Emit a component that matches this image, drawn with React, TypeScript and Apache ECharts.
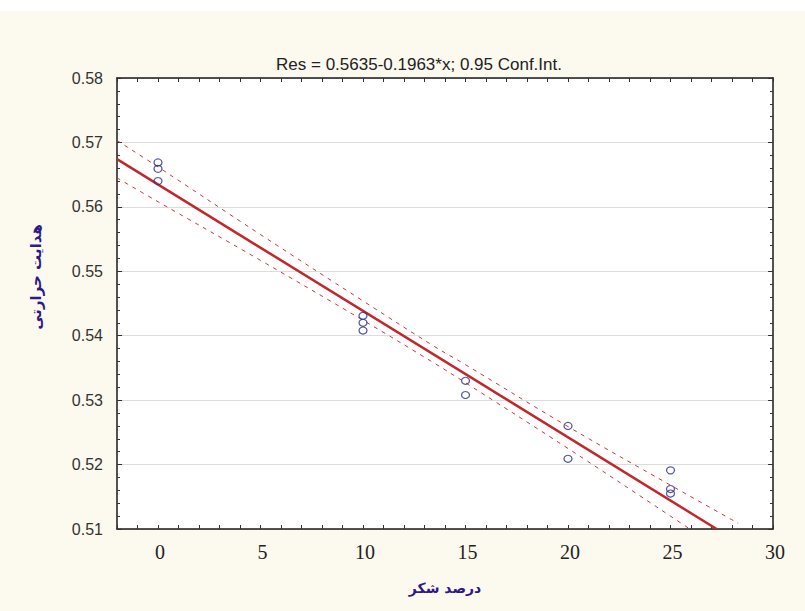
import React, { useEffect, useRef } from 'react';
import * as echarts from 'echarts';

const TITLE = 'Res = 0.5635-0.1963*x; 0.95 Conf.Int.';
const X_NAME = 'درصد شکر';
const Y_NAME = 'هدایت حرارتی';

// observed points
const obsX = [0, 0, 0, 10, 10, 10, 15, 15, 20, 20, 25, 25, 25];
const obsY = [0.5669, 0.5659, 0.564, 0.5431, 0.542, 0.5408, 0.533, 0.5308, 0.526, 0.5209, 0.5191, 0.5162, 0.5155];

// fitted regression line (endpoints)
const fitX = [-2, 27.25];
const fitY = [0.5674, 0.51];

// 0.95 confidence bands
const upperX = [-2, 0, 5, 10, 13.5, 15, 20, 25, 28.3];
const upperY = [0.5703, 0.5662, 0.5557, 0.5454, 0.5383, 0.5355, 0.5259, 0.5168, 0.5109];
const lowerX = [-2, 0, 5, 10, 13.5, 15, 20, 25, 26.5];
const lowerY = [0.5645, 0.5608, 0.5517, 0.5424, 0.5357, 0.5327, 0.5225, 0.512, 0.5088];

const xTickLabels = [0, 5, 10, 15, 20, 25, 30];
const Y_MIN = 0.51;
const Y_MAX = 0.58;

const pairs = (xs: number[], ys: number[]) => xs.map((x, i) => [x, ys[i]]);

export default function App() {
  const ref = useRef<HTMLDivElement>(null);
  useEffect(() => {
    document.body.style.margin = '0';
    const chart = echarts.init(ref.current!, undefined, { renderer: 'svg' });
    const mkAxisLine = () => ({ show: true, onZero: false, lineStyle: { color: '#1a1a1a', width: 1.5 } });
    const xCommon = () => ({
      type: 'value',
      min: -2,
      max: 30,
      interval: 1,
      axisLine: mkAxisLine(),
      axisTick: { show: true, inside: true, length: 4, lineStyle: { color: '#333', width: 1 } },
      splitLine: { show: false },
      axisLabel: { show: false },
    });
    const yCommon = () => ({
      type: 'value',
      min: Y_MIN,
      max: Y_MAX,
      interval: 0.01,
      axisLine: mkAxisLine(),
      axisTick: { show: true, inside: true, length: 5, lineStyle: { color: '#333', width: 1 } },
      minorTick: { show: true, splitNumber: 5, length: 3, lineStyle: { color: '#333', width: 1 } },
    });
    chart.setOption({
      animation: false,
      backgroundColor: '#fcf9ee',
      title: {
        text: TITLE,
        left: 414,
        top: 51,
        textAlign: 'center',
        textStyle: { fontFamily: "'Liberation Sans Narrow', 'Liberation Sans', Arial, sans-serif", fontSize: 17, fontWeight: 'normal', color: '#222' },
      },
      grid: {
        left: 117,
        right: 32,
        top: 78,
        bottom: 82,
        show: true,
        backgroundColor: '#ffffff',
        borderWidth: 0,
      },
      xAxis: [
        {
          ...xCommon(),
          position: 'bottom',
          name: X_NAME,
          nameLocation: 'middle',
          nameGap: 52,
          nameTextStyle: { fontFamily: 'DejaVu Sans', fontSize: 14, fontWeight: 'bold', color: '#2e1a87' },
        },
        { ...xCommon(), position: 'top' },
      ],
      yAxis: [
        {
          ...yCommon(),
          position: 'left',
          splitLine: { show: true, lineStyle: { color: '#dcdcdc', width: 1 } },
          axisLabel: {
            show: true,
            margin: 14,
            fontFamily: "'Liberation Sans', Arial, sans-serif",
            fontSize: 16,
            color: '#333',
            formatter: (v: number) => v.toFixed(2),
          },
        },
        { ...yCommon(), position: 'right', splitLine: { show: false }, axisLabel: { show: false } },
      ],
      graphic: [
        { type: 'rect', shape: { x: 0, y: 0, width: 805, height: 11 }, style: { fill: '#ffffff' }, silent: true },
        {
          type: 'text',
          x: 36,
          y: 277,
          rotation: Math.PI / 2,
          style: {
            text: Y_NAME,
            fontFamily: 'DejaVu Sans',
            fontSize: 15,
            fontWeight: 'bold',
            fill: '#2e1a87',
            align: 'center',
            verticalAlign: 'middle',
          },
        },
      ],
      series: [
        {
          type: 'line',
          data: pairs(upperX, upperY),
          smooth: 0.4,
          showSymbol: false,
          clip: true,
          lineStyle: { color: '#c8383c', width: 1, type: [4, 5] },
          z: 2,
        },
        {
          type: 'line',
          data: pairs(lowerX, lowerY),
          smooth: 0.4,
          showSymbol: false,
          clip: true,
          lineStyle: { color: '#c8383c', width: 1, type: [4, 5] },
          z: 2,
        },
        {
          type: 'line',
          data: pairs(fitX, fitY),
          showSymbol: false,
          clip: true,
          lineStyle: { color: '#c0282d', width: 2.5 },
          z: 3,
        },
        {
          type: 'scatter',
          data: pairs(obsX, obsY),
          symbol: 'circle',
          symbolSize: [8, 7],
          itemStyle: { color: 'transparent', borderColor: '#2b2f8f', borderWidth: 1.2 },
          z: 4,
        },
        {
          // x tick labels (serif), positioned through the x axis scale
          type: 'custom',
          data: xTickLabels.map((v) => [v, Y_MIN]),
          clip: false,
          silent: true,
          z: 5,
          renderItem: (params: any, api: any) => {
            const p = api.coord([api.value(0), api.value(1)]);
            return {
              type: 'text',
              x: p[0] + 2,
              y: p[1] + 13,
              style: {
                text: String(api.value(0)),
                fontFamily: "'Liberation Serif', 'DejaVu Serif', serif",
                fontSize: 20,
                fill: '#222',
                align: 'center',
                verticalAlign: 'top',
              },
            };
          },
        },
      ],
    });
    return () => chart.dispose();
  }, []);
  return <div ref={ref} style={{ width: 805, height: 611 }} />;
}
